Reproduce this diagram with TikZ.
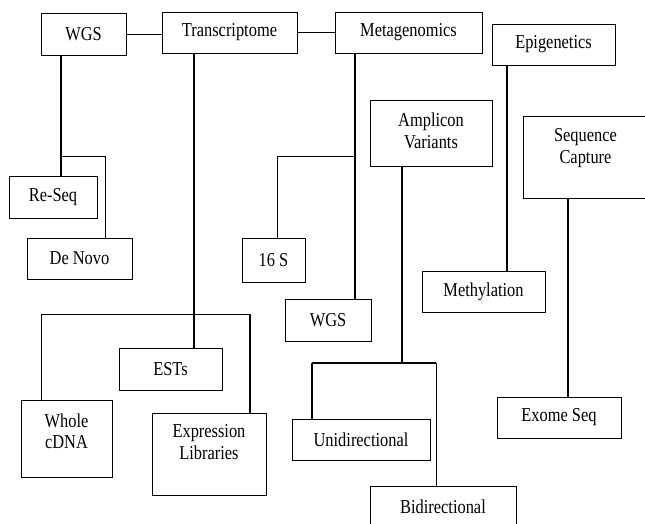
\documentclass[tikz,border=0pt]{standalone}
\usepackage{fontspec}
\setmainfont{Liberation Serif}
\usepackage{graphicx}
\newcommand{\lbl}[1]{\scalebox{1}[1.2]{#1}}
\newcommand{\twol}[2]{\scalebox{1}[1.2]{\begin{tabular}{@{}c@{}}#1\\#2\end{tabular}}}
\begin{document}
\begin{tikzpicture}[x=1pt,y=-1pt,
  box/.style={draw, line width=0.9pt, inner sep=0pt, font=\fontsize{16.4}{18}\selectfont, align=center},
  conn/.style={line width=1.5pt},
  connthin/.style={line width=0.9pt}]
\useasboundingbox (0,0) rectangle (645,523);
\clip (0,0) rectangle (645,523);
% top row
\node[box, minimum width=85pt, minimum height=42pt] (wgs) at (83.5,34) {\lbl{WGS}};
\node[box, minimum width=135pt, minimum height=41pt] (trans) at (229.5,32.5) {\lbl{Transcriptome}};
\node[box, minimum width=147pt, minimum height=41pt] (meta) at (408.5,32.5) {\lbl{Metagenomics}};
\node[box, minimum width=123pt, minimum height=41pt] (epi) at (553.5,44.5) {\lbl{Epigenetics}};
\node[box, minimum width=122pt, minimum height=66pt] (amp) at (431,133) {\twol{Amplicon}{Variants}};
\node[box, minimum width=125pt, minimum height=82pt] (seq) at (585.5,157) {\raisebox{9pt}[\height][\depth]{\twol{Sequence}{Capture}}};
% WGS branch
\node[box, minimum width=88pt, minimum height=42pt] (reseq) at (53,197) {\lbl{Re-Seq}};
\node[box, minimum width=105pt, minimum height=41pt] (denovo) at (79.5,258.5) {\lbl{De Novo}};
% Metagenomics branch
\node[box, minimum width=63pt, minimum height=44pt] (s16) at (273.5,260) {\lbl{16 S}};
\node[box, minimum width=86pt, minimum height=42pt] (wgs2) at (328,320) {\lbl{WGS}};
% Epigenetics branch
\node[box, minimum width=123pt, minimum height=41pt] (meth) at (483.5,291.5) {\lbl{Methylation}};
% Transcriptome branch
\node[box, minimum width=103pt, minimum height=42pt] (ests) at (170.5,369) {\lbl{ESTs}};
\node[box, minimum width=91pt, minimum height=77pt] (cdna) at (66.5,438.5) {\raisebox{5pt}[\height][\depth]{\twol{Whole}{cDNA}}};
\node[box, minimum width=114pt, minimum height=82pt] (expr) at (209,454) {\raisebox{10pt}[\height][\depth]{\twol{Expression}{Libraries}}};
% Amplicon branch
\node[box, minimum width=138pt, minimum height=41pt] (uni) at (361,439.5) {\lbl{Unidirectional}};
\node[box, minimum width=146pt, minimum height=42pt] (bi) at (443,507) {\lbl{Bidirectional}};
% Sequence capture branch
\node[box, minimum width=124pt, minimum height=41pt] (exome) at (559,417.5) {\lbl{Exome Seq}};
% junction coordinates
\coordinate (wx) at (61,156);
\coordinate (dn) at (105,156);
\coordinate (tj) at (194,314);
\coordinate (tl) at (41,314);
\coordinate (tr) at (250,314);
\coordinate (mj) at (355,156);
\coordinate (ml) at (277,156);
\coordinate (aj) at (402,363);
\coordinate (al) at (312,363);
\coordinate (ar) at (436,363);
\coordinate (ej) at (507,0);
\coordinate (sj) at (568,0);
% connectors
\draw[connthin] (wgs.east) -- (wgs.east -| trans.west);
\draw[connthin] (trans.east) -- (trans.east -| meta.west);
\draw[conn] (wgs.south -| wx) -- (reseq.north -| wx);
\draw[connthin] (wx) -- (dn) -- (dn |- denovo.north);
\draw[conn] (trans.south -| tj) -- (ests.north -| tj);
\draw[connthin] (tl) -- (tr);
\draw[connthin] (tl) -- (tl |- cdna.north);
\draw[conn] (tr) -- (tr |- expr.north);
\draw[conn] (meta.south -| mj) -- (wgs2.north -| mj);
\draw[connthin] (mj) -- (ml) -- (ml |- s16.north);
\draw[conn] (amp.south -| aj) -- (aj);
\draw[conn] (al) -- (ar);
\draw[conn] (al) -- (al |- uni.north);
\draw[connthin] (ar) -- (ar |- bi.north);
\draw[conn] (epi.south -| ej) -- (meth.north -| ej);
\draw[conn] (seq.south -| sj) -- (exome.north -| sj);
\end{tikzpicture}
\end{document}
